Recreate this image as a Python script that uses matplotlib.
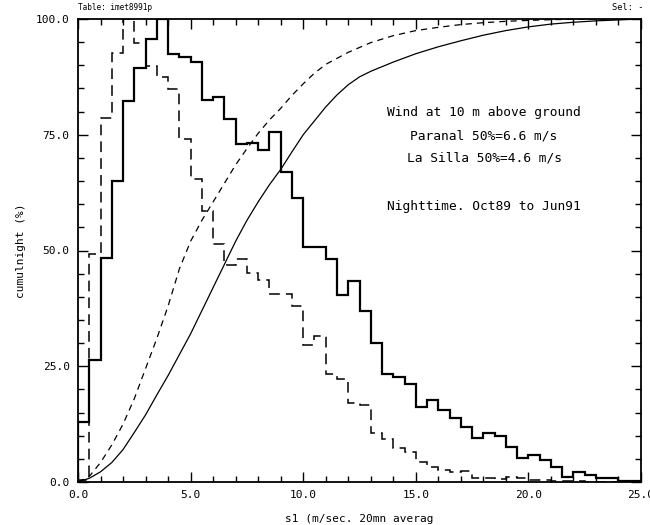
import numpy as np
import matplotlib
matplotlib.use("Agg")
import matplotlib.pyplot as plt
from matplotlib.ticker import MultipleLocator, FormatStrFormatter

# ---------------- data ----------------
bin_edges = np.arange(0.0, 25.0001, 0.5)

# Paranal wind histogram (solid), normalised to peak = 100
paranal_hist = [13.0, 26.3, 48.3, 65.1, 82.3, 89.5, 95.6, 100.0, 92.4, 91.7,
                90.7, 82.5, 83.2, 78.5, 73.0, 73.3, 71.7, 75.5, 66.9, 61.3,
                50.7, 50.7, 48.1, 40.3, 43.4, 36.9, 30.1, 23.4, 22.7, 21.1,
                16.2, 17.8, 15.5, 13.9, 11.9, 9.4, 10.6, 10.0, 7.5, 5.2,
                5.8, 4.7, 3.3, 1.0, 2.2, 1.5, 0.8, 0.8, 0.3, 0.3]

# La Silla wind histogram (dashed), normalised to peak = 100
lasilla_hist = [0.5, 49.3, 78.7, 92.6, 100.0, 94.9, 89.9, 87.5, 84.8, 74.1,
                65.5, 58.6, 51.4, 46.8, 48.2, 45.1, 43.7, 40.7, 40.7, 38.0,
                29.5, 31.5, 23.4, 22.3, 17.1, 16.6, 10.6, 9.2, 7.3, 6.5,
                4.4, 3.3, 2.6, 2.2, 2.4, 0.8, 0.8, 0.6, 1.0, 0.8,
                0.5, 0.4, 0.3, 0.2, 0.2, 0.1, 0.1, 0.1, 0.0, 0.0]

# cumulative curves
paranal_cdf_x = [0, 0.5, 1.0, 1.5, 2.0, 2.5, 3.0, 3.5, 4.0, 4.5, 5.0, 5.5, 6.0,
                 6.5, 7.0, 7.5, 8.0, 8.5, 9.0, 9.5, 10.0, 10.5, 11.0, 11.5,
                 12.0, 12.5, 13.0, 13.5, 14.0, 14.5, 15.0, 16.0, 17.0, 18.0,
                 19.0, 20.0, 21.0, 22.0, 23.0, 24.0, 25.0]
paranal_cdf_y = [0, 0.8, 2.2, 4.2, 7.0, 10.7, 14.5, 18.8, 23.0, 27.5, 32.0, 37.0,
                 42.0, 47.0, 52.0, 56.5, 60.5, 64.2, 67.5, 71.3, 75.0, 78.0,
                 81.0, 83.6, 85.8, 87.5, 88.7, 89.7, 90.7, 91.6, 92.5, 94.0,
                 95.3, 96.5, 97.5, 98.3, 98.9, 99.3, 99.6, 99.8, 100.0]

lasilla_cdf_x = [0, 0.5, 1.0, 1.5, 2.0, 2.5, 3.0, 3.5, 4.0, 4.5, 5.0, 5.5, 6.0,
                 6.5, 7.0, 7.5, 8.0, 8.5, 9.0, 9.5, 10.0, 10.5, 11.0, 11.5,
                 12.0, 13.0, 14.0, 15.0, 16.0, 17.0, 18.0, 19.0, 20.0, 21.0,
                 22.0, 23.0, 25.0]
lasilla_cdf_y = [0, 1.2, 4.2, 8.0, 12.5, 18.0, 24.5, 31.0, 38.0, 46.0, 52.0,
                 56.5, 60.5, 64.5, 68.5, 72.0, 75.3, 78.2, 80.7, 83.5, 86.0,
                 88.3, 90.2, 91.5, 92.8, 94.9, 96.4, 97.5, 98.2, 98.8, 99.2,
                 99.5, 99.7, 99.85, 99.95, 100.0, 100.0]

annotations = ["Wind at 10 m above ground",
               "Paranal 50%=6.6 m/s",
               "La Silla 50%=4.6 m/s",
               "Nighttime. Oct89 to Jun91"]
annotation_y = [79.7, 74.7, 70.0, 59.6]

# ---------------- plot ----------------
mono = "DejaVu Sans Mono"
fig = plt.figure(figsize=(6.5, 5.25), dpi=100)
ax = fig.add_axes([78/650, 1-482/525, (641-78)/650, (482-19)/525])

ax.stairs(paranal_hist, bin_edges, color="black", lw=1.6, baseline=0)
ax.stairs(lasilla_hist, bin_edges, color="black", lw=1.1, baseline=0,
          linestyle=(0, (7, 4)))
ax.plot(paranal_cdf_x, paranal_cdf_y, color="black", lw=0.9)
ax.plot(lasilla_cdf_x, lasilla_cdf_y, color="black", lw=0.9,
        linestyle=(0, (5, 4)))

ax.set_xlim(0, 25)
ax.set_ylim(0, 100)
ax.xaxis.set_major_locator(MultipleLocator(5))
ax.xaxis.set_minor_locator(MultipleLocator(1))
ax.yaxis.set_major_locator(MultipleLocator(25))
ax.yaxis.set_minor_locator(MultipleLocator(5))
ax.xaxis.set_major_formatter(FormatStrFormatter("%.1f"))
ax.yaxis.set_major_formatter(FormatStrFormatter("%.1f"))
ax.tick_params(which="both", direction="in", top=True, right=True,
               color="black", width=1.0, labelsize=8)
ax.tick_params(which="major", length=7, pad=6)
ax.tick_params(which="minor", length=4)
for lab in ax.get_xticklabels() + ax.get_yticklabels():
    lab.set_family(mono)
for sp in ax.spines.values():
    sp.set_linewidth(1.3)

ax.set_xlabel("s1 (m/sec. 20mn averag", family=mono, fontsize=8, labelpad=10)
ax.set_ylabel("cumulnight (%)", family=mono, fontsize=8, labelpad=7)

for txt, yv in zip(annotations, annotation_y):
    ax.text(18.03, yv, txt, ha="center", va="center", family=mono,
            fontsize=9.3)

fig.text(78/650, 1-8/525, "Table: imet8991p", ha="left", va="center",
         family=mono, fontsize=5.6)
fig.text(643/650, 1-8/525, "Sel: -", ha="right", va="center",
         family=mono, fontsize=6.2)

fig.savefig("out.png", dpi=100)
